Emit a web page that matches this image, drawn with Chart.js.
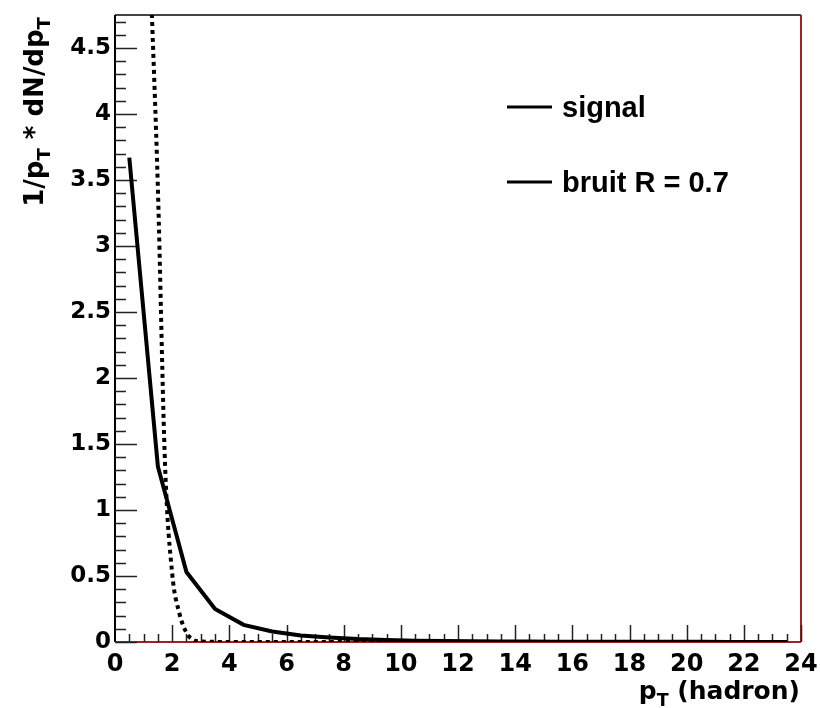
<!DOCTYPE html>
<html>
<head>
<meta charset="utf-8">
<title>pT hadron</title>
<script src="https://cdn.jsdelivr.net/npm/chart.js@4.4.1/dist/chart.umd.min.js"></script>
<style>
  html, body { margin: 0; padding: 0; background: #fff; }
  #wrap { width: 820px; height: 708px; }
</style>
</head>
<body>
<div id="wrap"><canvas id="ptChart" width="820" height="708"></canvas></div>
<script>
// signal: bin centres and values
const signalPt = [0.5, 1.5, 2.5, 3.5, 4.5, 5.5, 6.5, 7.5, 8.5, 9.5, 10.5, 11.5,
  12.5, 13.5, 14.5, 15.5, 16.5, 17.5, 18.5, 19.5, 20.5, 21.5, 22.5, 23.5];
const signalVal = [3.67, 1.33, 0.53, 0.25, 0.13, 0.08, 0.05, 0.035, 0.022, 0.015, 0.010, 0.007,
  0.005, 0.004, 0.003, 0.002, 0.002, 0.0015, 0.001, 0.001, 0.001, 0.0008, 0.0006, 0.0005];

// bruit R = 0.7 (dotted)
const bruitPt = [1.25, 1.5, 1.75, 2.0, 2.25, 2.5, 2.75, 3.0, 3.5, 4.5, 5.5, 6.5, 7.5, 8.5,
  9.5, 10.5, 11.5, 12.5, 13.5, 14.5, 15.5, 16.5, 17.5, 18.5, 19.5, 20.5, 21.5, 22.5, 23.5];
const bruitVal = [5.0, 3.44, 1.35, 0.52, 0.22, 0.07, 0.015, 0.004, 0.001, 0, 0, 0, 0, 0,
  0, 0, 0, 0, 0, 0, 0, 0, 0, 0, 0, 0, 0, 0, 0];

const xTicks = [0, 2, 4, 6, 8, 10, 12, 14, 16, 18, 20, 22, 24];
const yTicks = [0, 0.5, 1, 1.5, 2, 2.5, 3, 3.5, 4, 4.5];

const legendNames = ['signal', 'bruit R = 0.7'];

function toPoints(xs, ys) {
  return xs.map((v, i) => ({ x: v, y: ys[i] }));
}

// draws text pieces with subscripts, starting at (0,0) in current transform
function drawPieces(ctx, pieces, size, family) {
  let pos = 0;
  pieces.forEach(p => {
    const s = p.sub ? size * 0.7 : size;
    ctx.font = `bold ${s}px ${family}`;
    ctx.fillText(p.t, pos, p.sub ? size * 0.28 : 0);
    pos += ctx.measureText(p.t).width;
  });
  return pos;
}
function measurePieces(ctx, pieces, size, family) {
  let w = 0;
  pieces.forEach(p => {
    ctx.font = `bold ${p.sub ? size * 0.7 : size}px ${family}`;
    w += ctx.measureText(p.t).width;
  });
  return w;
}

const rootFrame = {
  id: 'rootFrame',
  beforeDatasetsDraw(chart) {
    const { ctx, chartArea: a, scales: { x, y } } = chart;
    ctx.save();
    ctx.lineCap = 'butt';

    // top and left frame
    ctx.strokeStyle = '#444';
    ctx.lineWidth = 2;
    ctx.beginPath();
    ctx.moveTo(a.left, a.top);
    ctx.lineTo(a.right, a.top);
    ctx.stroke();
    ctx.strokeStyle = '#000';
    ctx.beginPath();
    ctx.moveTo(a.left, a.top);
    ctx.lineTo(a.left, a.bottom);
    ctx.stroke();

    // red right edge and zero line
    ctx.strokeStyle = '#a3201e';
    ctx.beginPath();
    ctx.moveTo(a.right, a.top);
    ctx.lineTo(a.right, a.bottom);
    ctx.moveTo(a.left, a.bottom);
    ctx.lineTo(a.right, a.bottom);
    ctx.stroke();

    // inward ticks
    ctx.strokeStyle = '#222';
    ctx.lineWidth = 1.5;
    ctx.beginPath();
    for (let i = 0; i <= 47; i++) {
      const v = i / 10;
      if (v > y.max) break;
      const py = Math.round(y.getPixelForValue(v)) + 0.5;
      const len = i % 5 === 0 ? 22 : 11;
      ctx.moveTo(a.left, py);
      ctx.lineTo(a.left + len, py);
    }
    for (let i = 1; i <= 48; i++) {
      const px = Math.round(x.getPixelForValue(i / 2)) + 0.5;
      const len = i % 4 === 0 ? 17 : 8;
      ctx.moveTo(px, a.bottom);
      ctx.lineTo(px, a.bottom - len);
    }
    ctx.stroke();
    ctx.restore();
  },
  afterDraw(chart) {
    const { ctx } = chart;
    ctx.save();
    ctx.fillStyle = '#000';
    ctx.textBaseline = 'alphabetic';
    ctx.textAlign = 'left';

    // legend (both drawn as solid lines, like the original)
    const rows = [117, 192];
    ctx.strokeStyle = '#000';
    ctx.lineWidth = 3;
    legendNames.forEach((name, i) => {
      const ly = rows[i] - 10;
      ctx.beginPath();
      ctx.moveTo(507, ly);
      ctx.lineTo(552, ly);
      ctx.stroke();
      ctx.font = 'bold 29px "Liberation Sans", Arial, sans-serif';
      ctx.fillText(name, 562, rows[i]);
    });

    // y title: 1/pT * dN/dpT
    const fam = '"DejaVu Sans", sans-serif';
    const yPieces = [{ t: '1/p' }, { t: 'T', sub: true }, { t: ' * dN/dp' }, { t: 'T', sub: true }];
    const yw = measurePieces(ctx, yPieces, 26, fam);
    ctx.save();
    ctx.translate(43, 17 + yw);
    ctx.rotate(-Math.PI / 2);
    drawPieces(ctx, yPieces, 26, fam);
    ctx.restore();

    // x title: pT (hadron)
    const xPieces = [{ t: 'p' }, { t: 'T', sub: true }, { t: ' (hadron)' }];
    const xw = measurePieces(ctx, xPieces, 25, fam);
    ctx.save();
    ctx.translate(800 - xw, 699);
    drawPieces(ctx, xPieces, 25, fam);
    ctx.restore();

    ctx.restore();
  }
};

const tickFont = { family: 'DejaVu Sans', weight: 'bold', size: 24 };

new Chart(document.getElementById('ptChart'), {
  type: 'line',
  data: {
    datasets: [
      {
        label: legendNames[0],
        data: toPoints(signalPt, signalVal),
        borderColor: '#000',
        borderWidth: 4,
        pointRadius: 0,
        tension: 0,
        fill: false
      },
      {
        label: legendNames[1],
        data: toPoints(bruitPt, bruitVal),
        borderColor: '#000',
        borderWidth: 4,
        borderDash: [4, 4],
        pointRadius: 0,
        cubicInterpolationMode: 'monotone',
        fill: false
      }
    ]
  },
  options: {
    responsive: false,
    animation: false,
    layout: { padding: { top: 15, right: 19, left: 0, bottom: 0 } },
    plugins: { legend: { display: false }, tooltip: { enabled: false } },
    scales: {
      x: {
        type: 'linear',
        min: 0,
        max: 24,
        afterBuildTicks: s => { s.ticks = xTicks.map(v => ({ value: v })); },
        afterFit: s => { s.height = 66; s.paddingLeft = 0; s.paddingRight = 0; },
        grid: { display: false, drawTicks: false },
        border: { display: false },
        ticks: { font: tickFont, color: '#000', padding: 8, maxRotation: 0, autoSkip: false, callback: v => String(v) }
      },
      y: {
        type: 'linear',
        min: 0,
        max: 4.75,
        afterBuildTicks: s => { s.ticks = yTicks.map(v => ({ value: v })); },
        afterFit: s => { s.width = 115; s.paddingTop = 0; s.paddingBottom = 0; },
        grid: { display: false, drawTicks: false },
        border: { display: false },
        ticks: { font: { ...tickFont, size: 23 }, color: '#000', padding: 4, autoSkip: false, callback: v => String(v) }
      }
    }
  },
  plugins: [rootFrame]
});
</script>
</body>
</html>
